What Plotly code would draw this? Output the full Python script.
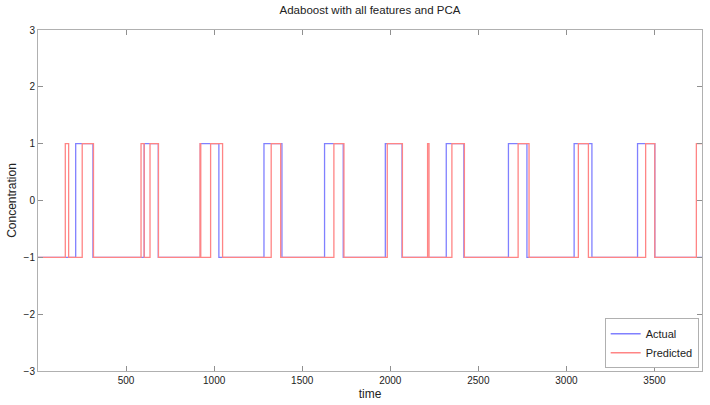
import plotly.graph_objects as go

# Step change points (time) and value held from that time onward
actual_time = [0, 214, 312, 603, 683, 922, 1027, 1283, 1385, 1627, 1733,
               1972, 2067, 2318, 2418, 2671, 2776, 3044, 3145, 3404, 3502, 3770]
actual_value = [-1, 1, -1, 1, -1, 1, -1, 1, -1, 1, -1,
                1, -1, 1, -1, 1, -1, 1, -1, 1, -1, -1]

pred_time = [0, 155, 174, 251, 315, 585, 603, 636, 684, 920, 924, 980, 1048,
             1324, 1378, 1680, 1737, 1983, 2069, 2212, 2220, 2350, 2421,
             2726, 2788, 3068, 3125, 3450, 3502, 3738, 3770]
pred_value = [-1, 1, -1, 1, -1, 1, -1, 1, -1, 1, -1, 1, -1,
              1, -1, 1, -1, 1, -1, 1, -1, 1, -1,
              1, -1, 1, -1, 1, -1, 1, 1]

x_ticks = [500, 1000, 1500, 2000, 2500, 3000, 3500]
y_ticks = [-3, -2, -1, 0, 1, 2, 3]

fig = go.Figure()
fig.add_trace(go.Scatter(x=actual_time, y=actual_value, mode="lines", name="Actual",
                         line=dict(color="#8080ff", width=1.3, shape="hv")))
fig.add_trace(go.Scatter(x=pred_time, y=pred_value, mode="lines", name="Predicted",
                         line=dict(color="#ff8585", width=1.3, shape="hv")))

axis_common = dict(showgrid=False, zeroline=False, showline=True, linecolor="#b0b0b0",
                   linewidth=1, mirror="ticks", ticks="inside", ticklen=5,
                   tickcolor="#909090", tickfont=dict(size=10, color="#222"))

fig.update_layout(
    width=710, height=405,
    margin=dict(l=38, r=8, t=30, b=34),
    paper_bgcolor="white", plot_bgcolor="white",
    font=dict(family="Liberation Sans, Arial, sans-serif", color="#222"),
    title=dict(text="Adaboost with all features and PCA", x=0.5, xref="paper",
               y=0.975, yanchor="middle", font=dict(size=11.5, color="#222")),
    xaxis=dict(range=[0, 3770], tickvals=x_ticks,
               title=dict(text="time", font=dict(size=12), standoff=4), **axis_common),
    yaxis=dict(range=[-3, 3], tickvals=y_ticks,
               title=dict(text="Concentration", font=dict(size=12), standoff=4), **axis_common),
    legend=dict(x=0.995, y=0.008, xanchor="right", yanchor="bottom",
                bordercolor="#b0b0b0", borderwidth=1, bgcolor="white",
                font=dict(size=11, color="#222"), itemwidth=30,
                tracegroupgap=0),
    showlegend=True,
)

fig.write_html("out.html")
